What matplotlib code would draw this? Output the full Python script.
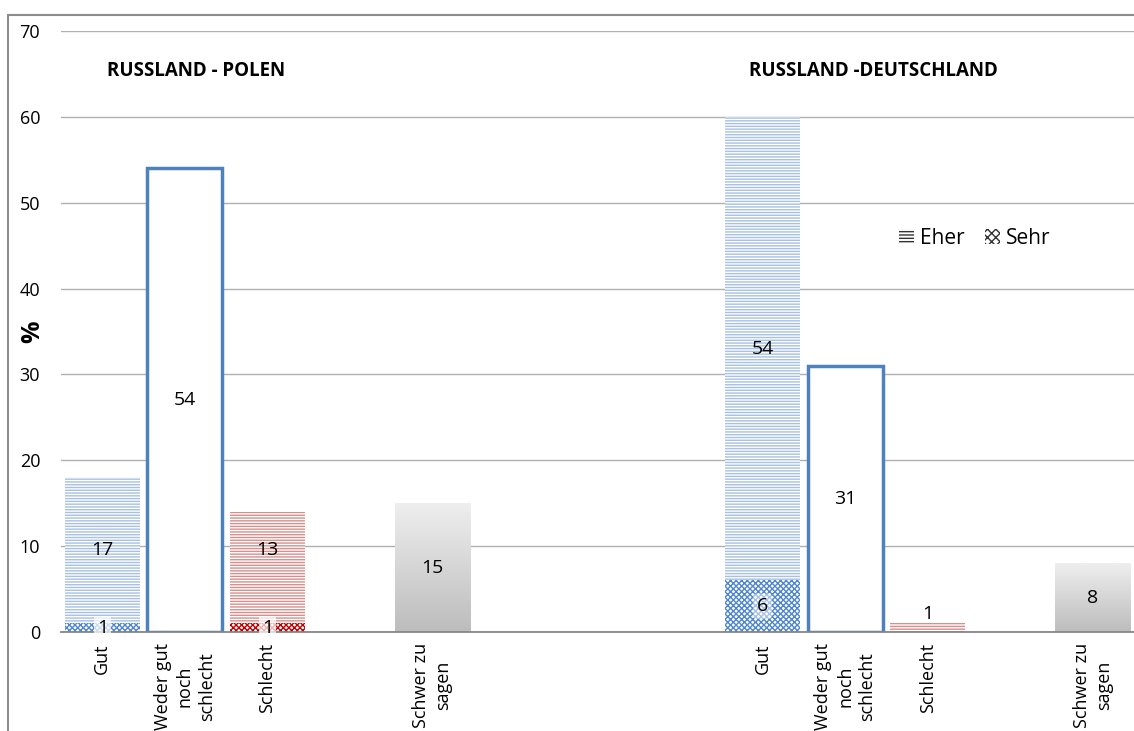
import matplotlib
matplotlib.use('Agg')
import matplotlib.pyplot as plt
import numpy as np
from matplotlib.patches import Patch, Rectangle

plt.rcParams['font.family'] = ['Open Sans', 'DejaVu Sans']
plt.rcParams['hatch.linewidth'] = 1.0

# categories and slots on the x axis
categories = ['Gut', 'Weder gut\nnoch\nschlecht', 'Schlecht', 'Schwer zu\nsagen']
pos_pl = [0, 1, 2, 4]
pos_de = [8, 9, 10, 12]
group_titles = ['RUSSLAND - POLEN', 'RUSSLAND -DEUTSCHLAND']

# Russland - Polen (values in %)
pl_sehr = [1, 1]        # Gut, Schlecht
pl_eher = [17, 13]      # Gut, Schlecht
pl_weder = 54
pl_schwer = 15

# Russland - Deutschland
de_sehr = [6, 0]
de_eher = [54, 1]
de_weder = 31
de_schwer = 8

blue_line = '#a7c0e3'
blue_check = '#4f86cf'
red_line = '#d68f8d'
red_check = '#c00000'
edge_blue = '#4f81bd'

fig = plt.figure(figsize=(11.34, 7.31), dpi=100)
ax = fig.add_axes([61 / 1134, 1 - 632 / 731, 1 - 61 / 1134, (632 - 31) / 731])
W = 0.91


def stacked(x, sehr, eher, line_c, check_c):
    ax.bar(x, sehr, W, color='white', edgecolor=check_c, linewidth=0, hatch='xxxxxx', zorder=2)
    ax.bar(x, eher, W, bottom=sehr, color='white', edgecolor=line_c, linewidth=0, hatch='------', zorder=2)


def gray_bar(x, v):
    rect = ax.bar(x, v, W, color='none', linewidth=0, zorder=2)[0]
    grad = np.linspace(0.74, 0.93, 50).reshape(-1, 1)
    im = ax.imshow(grad, cmap='gray', vmin=0, vmax=1, aspect='auto', origin='lower',
                   extent=[x - W / 2, x + W / 2, 0, v], zorder=2)
    im.set_clip_path(rect)


for pos, sehr, eher, weder, schwer in [(pos_pl, pl_sehr, pl_eher, pl_weder, pl_schwer),
                                        (pos_de, de_sehr, de_eher, de_weder, de_schwer)]:
    stacked(pos[0], sehr[0], eher[0], blue_line, blue_check)
    stacked(pos[2], sehr[1], eher[1], red_line, red_check)
    ax.bar(pos[1], weder, W, color='white', edgecolor=edge_blue, linewidth=2.5, zorder=2)
    gray_bar(pos[3], schwer)

fs = 14
# value labels - Polen
lab_y = pl_sehr[0] + pl_eher[0] / 2
ax.text(pos_pl[0], lab_y, str(pl_eher[0]), ha='center', va='center', fontsize=fs, zorder=5)
ax.text(pos_pl[2], lab_y, str(pl_eher[1]), ha='center', va='center', fontsize=fs, zorder=5)
for x, v in [(pos_pl[0], pl_sehr[0]), (pos_pl[2], pl_sehr[1])]:
    ax.text(x, v / 2, str(v), ha='center', va='center', fontsize=fs, zorder=5,
            bbox=dict(boxstyle='square,pad=0.15', facecolor='white', edgecolor='none', alpha=0.7))
ax.text(pos_pl[1], pl_weder / 2, str(pl_weder), ha='center', va='center', fontsize=fs, zorder=5)
ax.text(pos_pl[3], pl_schwer / 2, str(pl_schwer), ha='center', va='center', fontsize=fs, zorder=5)

# value labels - Deutschland
ax.text(pos_de[0], de_sehr[0] + de_eher[0] / 2, str(de_eher[0]), ha='center', va='center', fontsize=fs, zorder=5)
ax.text(pos_de[0], de_sehr[0] / 2, str(de_sehr[0]), ha='center', va='center', fontsize=fs, zorder=5,
        bbox=dict(boxstyle='round,pad=0.2', facecolor='white', edgecolor='none', alpha=0.5))
ax.text(pos_de[1], de_weder / 2, str(de_weder), ha='center', va='center', fontsize=fs, zorder=5)
ax.text(pos_de[2], de_eher[1] + de_sehr[1], str(de_eher[1]), ha='center', va='bottom', fontsize=fs, zorder=5)
ax.text(pos_de[3], de_schwer / 2, str(de_schwer), ha='center', va='center', fontsize=fs, zorder=5)

# group titles
ax.text(0.06, 65.3, group_titles[0], ha='left', va='center', fontsize=13.5, fontweight='bold')
ax.text(7.83, 65.3, group_titles[1], ha='left', va='center', fontsize=13.5, fontweight='bold')

ax.set_xlim(-0.5, 12.5)
ax.set_ylim(0, 70)
ax.set_yticks(range(0, 71, 10))
ax.set_xticks(pos_pl + pos_de)
ax.set_xticklabels(categories + categories, rotation=90, fontsize=13, linespacing=1.3,
                   ha='center', va='top', multialignment='center')
ax.tick_params(axis='both', length=0, labelsize=13)
ax.tick_params(axis='y', pad=15)
ax.tick_params(axis='x', pad=8)
ax.grid(axis='y', color='#b0b0b0', linewidth=1)
ax.set_axisbelow(True)
for s in ['top', 'right', 'left']:
    ax.spines[s].set_visible(False)
ax.spines['bottom'].set_color('#868686')
ax.spines['bottom'].set_linewidth(1.3)
ax.spines['bottom'].set_zorder(3)

ax.set_ylabel('%', fontsize=18, fontweight='bold')
ax.yaxis.set_label_coords((45 - 61) / 1073, 0.5)

handles = [Patch(facecolor='white', edgecolor='#333333', linewidth=0, hatch='-----', label='Eher'),
           Patch(facecolor='white', edgecolor='#333333', linewidth=0, hatch='xxxx', label='Sehr')]
leg = ax.legend(handles=handles, loc='center', ncol=2, frameon=False, fontsize=15,
                handlelength=0.7, handleheight=0.7, handletextpad=0.3, columnspacing=1.0)
leg.set_bbox_to_anchor((975 / 1134, 1 - 238 / 731), transform=fig.transFigure)

# outer chart frame
fig.patches.append(Rectangle((8 / 1134, -0.05), 1.2, 1 - 15 / 731 + 0.05, transform=fig.transFigure,
                             facecolor='none', edgecolor='#8c8c8c', linewidth=1.5))

fig.savefig('out.png', dpi=100)
